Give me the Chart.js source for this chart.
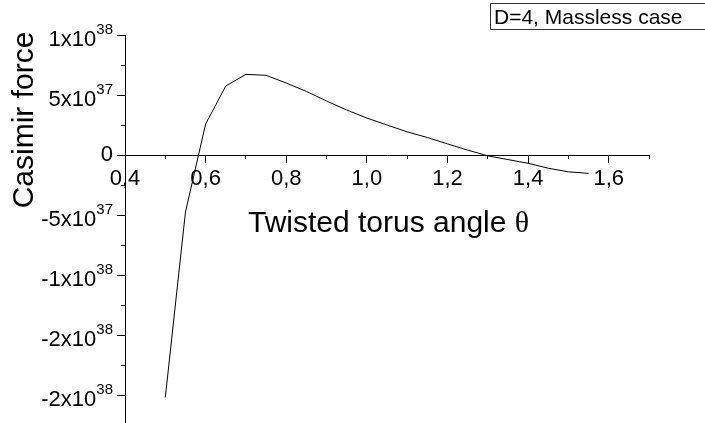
<!DOCTYPE html>
<html>
<head>
<meta charset="utf-8">
<script src="https://cdn.jsdelivr.net/npm/chart.js@4/dist/chart.umd.min.js"></script>
<style>
html,body{margin:0;padding:0;background:#fff;overflow:hidden;}
canvas{display:block;}
</style>
</head>
<body>
<canvas id="c" width="705" height="423"></canvas>
<script>
// ---- data (force values in units of 1e37) ----
const thetaValues = [0.50,0.55,0.60,0.65,0.70,0.75,0.80,0.85,0.90,0.95,1.00,1.05,1.10,1.15,1.20,1.25,1.30,1.35,1.40,1.45,1.50,1.55];
const forceE37 = [-20.2,-4.75,2.58,5.75,6.72,6.64,6.0,5.3,4.5,3.75,3.08,2.5,1.93,1.46,0.93,0.41,-0.07,-0.38,-0.69,-1.1,-1.4,-1.53];

const xTickLabels = ['0,4','0,6','0,8','1,0','1,2','1,4','1,6'];
const yTickValues = [10,5,0,-5,-10,-15,-20];
const yTickMantissa = ['1x10','5x10','0','-5x10','-1x10','-2x10','-2x10'];
const yTickExponent = ['38','37','','37','38','38','38'];

const xTitle = 'Twisted torus angle ';
const xTitleSymbol = '\u03B8';
const yTitle = 'Casimir force';
const legendText = 'D=4, Massless case';

const FONT = '"Liberation Sans", Arial, Helvetica, sans-serif';
Chart.defaults.font.family = FONT;
Chart.defaults.color = '#000';

const overlay = {
  id: 'overlay',
  beforeDraw(chart) {
    const ctx = chart.ctx;
    ctx.save();
    ctx.fillStyle = '#fff';
    ctx.fillRect(0, 0, chart.width, chart.height);
    ctx.restore();
  },
  afterDraw(chart) {
    const ctx = chart.ctx;
    const ys = chart.scales.y;
    const area = chart.chartArea;
    ctx.save();
    ctx.fillStyle = '#000';
    // y tick labels with superscripts
    const right = area.left - 12;
    yTickValues.forEach((v, i) => {
      const py = ys.getPixelForValue(v);
      const m = yTickMantissa[i], e = yTickExponent[i];
      ctx.textBaseline = 'alphabetic';
      if (e) {
        ctx.font = '15px ' + FONT;
        const ew = ctx.measureText(e).width;
        ctx.textAlign = 'left';
        ctx.fillText(e, right - ew, py - 1);
        ctx.font = '22px ' + FONT;
        ctx.textAlign = 'right';
        ctx.fillText(m, right - ew, py + 11);
      } else {
        ctx.font = '22px ' + FONT;
        ctx.textAlign = 'right';
        ctx.fillText(m, right, py + 6);
      }
    });
    // y title
    ctx.save();
    ctx.translate(33, 120);
    ctx.rotate(-Math.PI / 2);
    ctx.font = '30px ' + FONT;
    ctx.textAlign = 'center';
    ctx.textBaseline = 'alphabetic';
    ctx.fillText(yTitle, 0, 0);
    ctx.restore();
    // x title
    ctx.font = '30px ' + FONT;
    ctx.textAlign = 'left';
    ctx.textBaseline = 'alphabetic';
    ctx.fillText(xTitle, 248, 232);
    const tw = ctx.measureText(xTitle).width;
    ctx.font = '30px "Liberation Serif", "DejaVu Serif", serif';
    ctx.fillText(xTitleSymbol, 248 + tw, 232);
    // legend box
    ctx.strokeStyle = '#333';
    ctx.lineWidth = 1;
    ctx.beginPath();
    ctx.moveTo(720, 3.5); ctx.lineTo(490.5, 3.5); ctx.lineTo(490.5, 29.5); ctx.lineTo(720, 29.5);
    ctx.stroke();
    ctx.font = '21px ' + FONT;
    ctx.fillText(legendText, 494, 24);
    ctx.restore();
  }
};

const zeroHeight = s => { s.height = 0; };
const zeroWidth = s => { s.width = 0; };

new Chart(document.getElementById('c'), {
  type: 'line',
  data: {
    datasets: [{
      data: thetaValues.map((t, i) => ({x: t, y: forceE37[i]})),
      borderColor: '#000',
      borderWidth: 1,
      pointRadius: 0,
      fill: false,
      tension: 0
    }]
  },
  options: {
    responsive: false,
    animation: false,
    devicePixelRatio: 1,
    layout: {padding: {left: 125, top: 35, right: 56, bottom: 0}},
    plugins: {legend: {display: false}, tooltip: {enabled: false}},
    scales: {
      x: {
        type: 'linear', position: {y: 0}, min: 0.4, max: 1.7,
        afterFit: zeroHeight,
        border: {display: true, color: '#000', width: 1},
        grid: {display: true, drawOnChartArea: false, drawTicks: true, tickLength: 7, color: '#000', tickColor: '#000'},
        ticks: {stepSize: 0.2, includeBounds: false, autoSkip: false, maxRotation: 0, padding: 4,
          font: {size: 22}, color: '#000',
          callback: (v, i) => xTickLabels[i]}
      },
      x2: {
        type: 'linear', axis: 'x', position: {y: 0}, min: 0.4, max: 1.7,
        afterFit: zeroHeight,
        border: {display: false},
        grid: {display: true, drawOnChartArea: false, drawTicks: true, tickLength: 4, color: '#000', tickColor: '#000'},
        ticks: {stepSize: 0.1, display: false}
      },
      y: {
        type: 'linear', position: {x: 0.4}, min: -22.33, max: 10,
        afterFit: zeroWidth,
        border: {display: true, color: '#000', width: 1},
        grid: {display: true, drawOnChartArea: false, drawTicks: true, tickLength: 8, color: '#000', tickColor: '#000'},
        ticks: {stepSize: 5, includeBounds: false, display: false}
      },
      y2: {
        type: 'linear', axis: 'y', position: {x: 0.4}, min: -22.33, max: 10,
        afterFit: zeroWidth,
        border: {display: false},
        grid: {display: true, drawOnChartArea: false, drawTicks: true, tickLength: 4, color: '#000', tickColor: '#000'},
        ticks: {stepSize: 2.5, includeBounds: false, display: false}
      }
    }
  },
  plugins: [overlay]
});
</script>
</body>
</html>
